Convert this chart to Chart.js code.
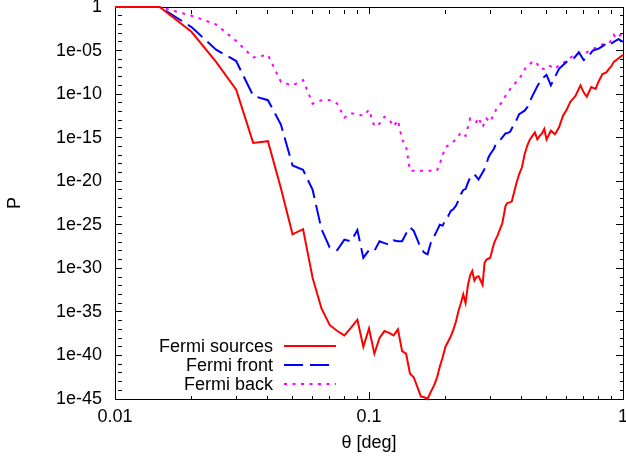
<!DOCTYPE html>
<html>
<head>
<meta charset="utf-8">
<script src="https://cdn.jsdelivr.net/npm/chart.js@4.4.1/dist/chart.umd.min.js"></script>
<style>
  html, body { margin: 0; padding: 0; background: #fff; }
  #wrap { width: 626px; height: 464px; }
</style>
</head>
<body>
<div id="wrap"><canvas id="probChart"></canvas></div>
<script>
// ===== Data (theta in deg, log10 of P) =====
const sourcesTheta = [0.01, 0.015, 0.02, 0.025, 0.03, 0.035, 0.04, 0.045, 0.05, 0.055, 0.06, 0.065, 0.07, 0.075, 0.08, 0.085, 0.09, 0.095, 0.1, 0.105, 0.11, 0.115, 0.12, 0.125, 0.13, 0.135, 0.14, 0.145, 0.15, 0.155, 0.16, 0.165, 0.17, 0.175, 0.18, 0.185, 0.19, 0.195, 0.2, 0.205, 0.21, 0.215, 0.22, 0.225, 0.23, 0.235, 0.24, 0.245, 0.25, 0.255, 0.26, 0.265, 0.27, 0.275, 0.28, 0.285, 0.29, 0.295, 0.3, 0.31, 0.315, 0.32, 0.33, 0.335, 0.345, 0.35, 0.36, 0.365, 0.38, 0.39, 0.4, 0.41, 0.42, 0.43, 0.44, 0.45, 0.46, 0.47, 0.48, 0.49, 0.5, 0.52, 0.54, 0.56, 0.58, 0.6, 0.62, 0.65, 0.68, 0.7, 0.72, 0.75, 0.78, 0.8, 0.83, 0.86, 0.88, 0.9, 0.92, 0.95, 0.98, 1.0];
const sourcesLogP = [0, 0, -2.85, -6.3, -9.5, -15.6, -15.4, -20.8, -26.1, -25.5, -31.1, -34.6, -36.5, -37.2, -37.7, -36.8, -35.9, -39.0, -36.9, -39.8, -38.0, -37.2, -37.4, -37.7, -37.0, -39.5, -39.8, -42.1, -42.5, -43.6, -44.7, -44.8, -45.0, -44.2, -43.5, -42.6, -41.3, -40.2, -39.0, -38.4, -37.8, -37.0, -36.1, -34.9, -34.0, -33.0, -34.0, -32.0, -30.8, -30.3, -31.4, -31.0, -30.9, -31.4, -31.9, -29.4, -29.0, -28.9, -28.8, -27.2, -26.7, -26.3, -25.3, -24.8, -22.8, -22.5, -22.4, -22.3, -20.3, -19.2, -18.4, -16.9, -15.9, -15.2, -14.8, -14.4, -15.2, -14.8, -14.5, -14.0, -15.2, -14.2, -14.6, -13.8, -12.5, -11.8, -10.9, -10.2, -9.0, -9.8, -10.3, -9.2, -9.4, -8.6, -7.7, -7.5, -7.1, -6.8, -6.3, -6.0, -5.7, -5.5];

const frontTheta = [0.01, 0.015, 0.02, 0.025, 0.03, 0.035, 0.04, 0.045, 0.05, 0.055, 0.06, 0.065, 0.07, 0.075, 0.08, 0.085, 0.09, 0.095, 0.1, 0.105, 0.11, 0.115, 0.12, 0.125, 0.13, 0.135, 0.14, 0.145, 0.15, 0.155, 0.16, 0.165, 0.17, 0.175, 0.18, 0.185, 0.19, 0.195, 0.2, 0.205, 0.21, 0.215, 0.22, 0.225, 0.23, 0.235, 0.24, 0.245, 0.25, 0.255, 0.26, 0.265, 0.27, 0.28, 0.285, 0.29, 0.295, 0.3, 0.31, 0.315, 0.32, 0.33, 0.345, 0.35, 0.36, 0.37, 0.375, 0.39, 0.41, 0.42, 0.44, 0.46, 0.48, 0.49, 0.5, 0.52, 0.54, 0.56, 0.58, 0.61, 0.64, 0.67, 0.7, 0.73, 0.76, 0.8, 0.84, 0.86, 0.88, 0.92, 0.96, 1.0];
const frontLogP = [0, 0, -2.3, -4.9, -6.2, -10.2, -10.7, -13.5, -18.2, -18.7, -21.0, -25.5, -27.6, -27.9, -26.7, -26.9, -25.6, -28.8, -27.9, -28.0, -26.9, -27.1, -27.3, -26.8, -26.9, -26.9, -26.0, -25.3, -25.7, -26.7, -27.7, -28.2, -28.4, -27.1, -26.4, -25.7, -25.0, -25.1, -24.4, -24.0, -23.4, -23.2, -22.8, -22.2, -21.5, -21.0, -20.9, -20.2, -19.6, -19.3, -19.2, -19.5, -19.8, -19.0, -18.6, -18.0, -17.3, -16.9, -16.3, -15.8, -15.6, -15.2, -14.5, -14.5, -14.3, -13.6, -13.4, -12.3, -11.9, -11.5, -10.2, -9.1, -8.2, -8.0, -7.8, -9.0, -8.0, -7.1, -6.7, -6.1, -5.9, -5.2, -6.1, -5.7, -5.0, -4.8, -4.4, -4.2, -4.4, -4.0, -3.7, -4.0];

const backTheta = [0.01, 0.015, 0.02, 0.025, 0.03, 0.035, 0.04, 0.045, 0.05, 0.055, 0.06, 0.065, 0.07, 0.075, 0.08, 0.085, 0.09, 0.095, 0.1, 0.105, 0.11, 0.115, 0.12, 0.125, 0.13, 0.135, 0.14, 0.145, 0.15, 0.16, 0.17, 0.18, 0.185, 0.19, 0.195, 0.2, 0.21, 0.22, 0.23, 0.24, 0.245, 0.25, 0.26, 0.265, 0.27, 0.28, 0.29, 0.3, 0.31, 0.32, 0.335, 0.345, 0.36, 0.38, 0.4, 0.415, 0.44, 0.455, 0.47, 0.49, 0.51, 0.54, 0.56, 0.59, 0.63, 0.67, 0.72, 0.76, 0.8, 0.84, 0.89, 0.92, 0.94, 1.0];
const backLogP = [0, 0, -1.0, -2.0, -3.9, -5.8, -5.5, -8.6, -9.0, -8.4, -11.1, -10.7, -10.7, -11.1, -12.7, -12.2, -12.3, -12.5, -11.8, -13.7, -13.4, -12.6, -12.9, -13.7, -13.0, -15.2, -16.0, -18.8, -18.8, -18.8, -18.8, -18.8, -18.8, -18.0, -17.0, -16.1, -15.7, -15.2, -14.4, -14.8, -13.8, -12.8, -13.1, -13.2, -12.7, -13.8, -12.8, -13.2, -12.3, -11.5, -10.9, -10.2, -9.4, -8.6, -7.8, -6.9, -6.3, -6.3, -7.1, -7.1, -6.7, -7.1, -6.7, -6.3, -5.7, -5.3, -5.2, -4.8, -4.6, -4.2, -4.0, -3.2, -3.6, -3.0];

// tick positions: labelled majors plus unlabelled minors
const xMajorTicks = [0.01, 0.1, 1];
const xMinorTicks = [0.02, 0.03, 0.04, 0.05, 0.06, 0.07, 0.08, 0.09, 0.2, 0.3, 0.4, 0.5, 0.6, 0.7, 0.8, 0.9];
const yDecades = [0, -1, -2, -3, -4, -5, -6, -7, -8, -9, -10, -11, -12, -13, -14, -15, -16, -17, -18, -19, -20, -21, -22, -23, -24, -25, -26, -27, -28, -29, -30, -31, -32, -33, -34, -35, -36, -37, -38, -39, -40, -41, -42, -43, -44, -45];

const FONT = "'Liberation Sans', Arial, Helvetica, sans-serif";

function toPoints(theta, logP) {
  return theta.map((t, i) => ({ x: t, y: Math.pow(10, logP[i]) }));
}

const isXMajor = (v) => xMajorTicks.some(m => Math.abs(v - m) < 1e-9);
const isYMajor = (v) => Math.round(Math.log10(v)) % 5 === 0;

const xTickList = (s) => { s.ticks = xMajorTicks.concat(xMinorTicks).sort((a, b) => a - b).map(v => ({ value: v })); };
const yTickList = (s) => { s.ticks = yDecades.map(e => ({ value: Math.pow(10, e) })); };

// inward tick marks: majors 7px, minors cut to 4px with a dash
const xGrid = {
  display: true,
  drawOnChartArea: false,
  drawTicks: true,
  tickLength: -7,
  color: '#000',
  lineWidth: 1,
  tickBorderDash: (c) => (c.tick && isXMajor(c.tick.value)) ? [] : [4, 30]
};
const yGrid = {
  display: true,
  drawOnChartArea: false,
  drawTicks: true,
  tickLength: -7,
  color: '#000',
  lineWidth: 1,
  tickBorderDash: (c) => (c.tick && isYMajor(c.tick.value)) ? [] : [4, 30]
};
const frameBorder = { display: true, color: '#000', width: 1 };

// ===== Key in the lower left: text, then line sample =====
const keyPlugin = {
  id: 'gnuKey',
  afterDraw(chart) {
    const c = chart.ctx;
    const rows = [346, 365, 384];
    c.save();
    c.font = '18px ' + FONT;
    c.textAlign = 'right';
    c.textBaseline = 'middle';
    chart.data.datasets.forEach((ds, i) => {
      c.fillStyle = '#000';
      c.fillText(ds.label, 273, rows[i] + 1);
      c.strokeStyle = ds.borderColor;
      c.lineWidth = ds.borderWidth;
      c.setLineDash(ds.borderDash || []);
      c.beginPath();
      c.moveTo(284, rows[i]);
      c.lineTo(336, rows[i]);
      c.stroke();
    });
    c.restore();
  }
};

const ctx = document.getElementById('probChart').getContext('2d');
const probChart = new Chart(ctx, {
  type: 'line',
  data: {
    datasets: [
      { label: 'Fermi sources', data: toPoints(sourcesTheta, sourcesLogP), borderColor: '#ff0000', borderWidth: 2, pointRadius: 0, tension: 0, clip: 4 },
      { label: 'Fermi front', data: toPoints(frontTheta, frontLogP), borderColor: '#0000ff', borderWidth: 2, borderDash: [19, 7], pointRadius: 0, tension: 0, clip: 4 },
      { label: 'Fermi back', data: toPoints(backTheta, backLogP), borderColor: '#ff00ff', borderWidth: 2, borderDash: [3, 5.5], pointRadius: 0, tension: 0, clip: 4 }
    ]
  },
  options: {
    responsive: true,
    maintainAspectRatio: false,
    animation: false,
    layout: { padding: { top: 7, right: 3, left: 0, bottom: 0 } },
    plugins: { legend: { display: false }, tooltip: { enabled: false } },
    scales: {
      x: {
        type: 'logarithmic', position: 'bottom', min: 0.01, max: 1,
        grid: xGrid,
        border: frameBorder,
        afterBuildTicks: xTickList,
        afterFit: (s) => { s.paddingLeft = 0; s.paddingRight = 0; s.height = 65; },
        ticks: {
          autoSkip: false, maxRotation: 0, padding: 14, color: '#000',
          font: { family: FONT, size: 18 },
          callback: (v) => isXMajor(v) ? String(v) : ''
        },
        title: { display: true, text: 'θ [deg]', color: '#000', font: { family: FONT, size: 18 }, padding: { top: 0, bottom: 10 } }
      },
      x2: {
        type: 'logarithmic', position: 'top', min: 0.01, max: 1,
        grid: xGrid,
        border: frameBorder,
        afterBuildTicks: xTickList,
        afterFit: (s) => { s.paddingLeft = 0; s.paddingRight = 0; s.height = 0; },
        ticks: { display: false }
      },
      y: {
        type: 'logarithmic', position: 'left', min: 1e-45, max: 1,
        grid: yGrid,
        border: frameBorder,
        afterBuildTicks: yTickList,
        afterFit: (s) => { s.paddingTop = 0; s.paddingBottom = 0; s.width = 115; },
        ticks: {
          autoSkip: false, padding: 20, color: '#000',
          font: { family: FONT, size: 18 },
          callback: (v) => {
            const e = Math.round(Math.log10(v));
            if (e % 5 !== 0) return '';
            return e === 0 ? '1' : '1e-' + String(-e).padStart(2, '0');
          }
        },
        title: { display: true, text: 'P', color: '#000', font: { family: FONT, size: 18 }, padding: { top: 4, bottom: 4 } }
      },
      y2: {
        type: 'logarithmic', position: 'right', min: 1e-45, max: 1,
        grid: yGrid,
        border: frameBorder,
        afterBuildTicks: yTickList,
        afterFit: (s) => { s.paddingTop = 0; s.paddingBottom = 0; s.width = 0; },
        ticks: { display: false }
      }
    }
  },
  plugins: [keyPlugin]
});
</script>
</body>
</html>
